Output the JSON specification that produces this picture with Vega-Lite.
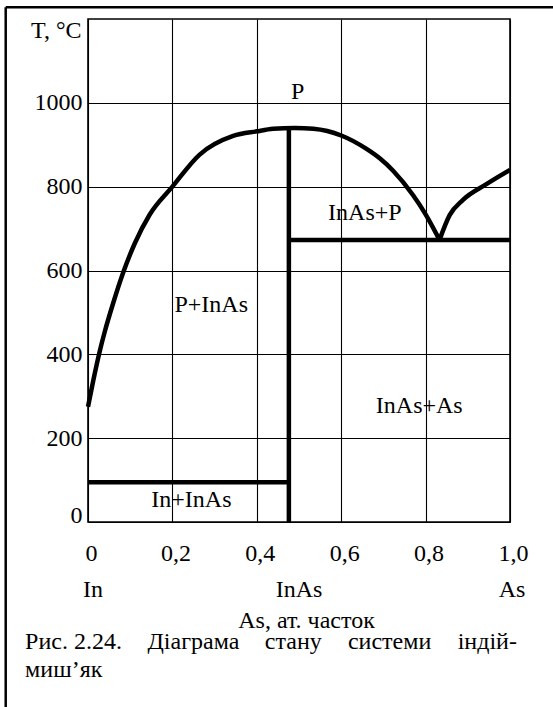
{
  "$schema": "https://vega.github.io/schema/vega-lite/v6.json",
  "width": 422,
  "height": 503,
  "autosize": {"type": "none"},
  "padding": {"left": 88, "top": 19, "right": 43, "bottom": 185},
  "background": "white",
  "config": {
    "font": "Liberation Serif",
    "view": {"stroke": "black", "strokeWidth": 1.6},
    "axis": {
      "grid": true, "gridColor": "black", "gridOpacity": 1, "gridWidth": 1.1,
      "domain": false, "ticks": false, "tickSize": 0,
      "labelFont": "Liberation Serif", "labelFontSize": 24, "labelColor": "black",
      "titleFont": "Liberation Serif", "titleFontSize": 24, "titleFontWeight": "normal", "titleColor": "black"
    },
    "text": {"font": "Liberation Serif", "fontSize": 24, "color": "black"}
  },
  "datasets": {
    "frameTop": [{"x": -0.195, "x2": 1.3, "T": 1228, "T2": 1228}],
    "frameLeft": [{"x": -0.195, "x2": -0.195, "T": 1228, "T2": -600}],
    "curve": [
      {"branch": "L", "x": 0, "T": 275},
      {"branch": "L", "x": 0.013, "T": 340},
      {"branch": "L", "x": 0.027, "T": 404},
      {"branch": "L", "x": 0.04, "T": 455},
      {"branch": "L", "x": 0.059, "T": 520},
      {"branch": "L", "x": 0.083, "T": 594},
      {"branch": "L", "x": 0.111, "T": 665},
      {"branch": "L", "x": 0.146, "T": 733},
      {"branch": "L", "x": 0.2, "T": 800},
      {"branch": "L", "x": 0.264, "T": 876},
      {"branch": "L", "x": 0.344, "T": 921},
      {"branch": "L", "x": 0.4, "T": 932},
      {"branch": "L", "x": 0.439, "T": 938},
      {"branch": "L", "x": 0.49, "T": 940},
      {"branch": "L", "x": 0.534, "T": 938},
      {"branch": "L", "x": 0.6, "T": 922},
      {"branch": "L", "x": 0.66, "T": 890},
      {"branch": "L", "x": 0.692, "T": 867},
      {"branch": "L", "x": 0.723, "T": 838},
      {"branch": "L", "x": 0.77, "T": 780},
      {"branch": "L", "x": 0.8, "T": 734},
      {"branch": "L", "x": 0.833, "T": 673},
      {"branch": "R", "x": 0.833, "T": 673},
      {"branch": "R", "x": 0.857, "T": 732},
      {"branch": "R", "x": 0.888, "T": 768},
      {"branch": "R", "x": 0.944, "T": 806},
      {"branch": "R", "x": 1.0, "T": 840}
    ],
    "lines": [
      {"x": 0, "x2": 0.476, "T": 95, "T2": 95},
      {"x": 0.476, "x2": 0.476, "T": 0, "T2": 936},
      {"x": 0.476, "x2": 1.0, "T": 673, "T2": 673}
    ],
    "regions": [
      {"label": "P", "x": 0.497, "T": 1026},
      {"label": "InAs+P", "x": 0.656, "T": 737},
      {"label": "P+InAs", "x": 0.292, "T": 518},
      {"label": "InAs+As", "x": 0.785, "T": 277},
      {"label": "In+InAs", "x": 0.245, "T": 52}
    ],
    "components": [
      {"label": "In", "x": 0.012, "T": -178},
      {"label": "InAs", "x": 0.5, "T": -178},
      {"label": "As", "x": 1.005, "T": -178}
    ],
    "caption": [
      {"label": "Рис. 2.24.", "x": -0.149, "T": -303},
      {"label": "Діаграма", "x": 0.141, "T": -303},
      {"label": "стану", "x": 0.419, "T": -303},
      {"label": "системи", "x": 0.616, "T": -303},
      {"label": "індій-", "x": 0.876, "T": -303},
      {"label": "миш’як", "x": -0.149, "T": -370}
    ]
  },
  "layer": [
    {
      "data": {"name": "curve"},
      "mark": {"type": "line", "color": "black", "strokeWidth": 4.5, "interpolate": "monotone", "strokeJoin": "round"},
      "encoding": {
        "x": {
          "field": "x", "type": "quantitative",
          "scale": {"domain": [0, 1], "nice": false, "zero": false},
          "axis": {
            "values": [0, 0.2, 0.4, 0.6, 0.8, 1.0],
            "labelExpr": "datum.value == 0 ? '0' : replace(format(datum.value, '.1f'), '.', ',')",
            "labelBaseline": "alphabetic",
            "labelPadding": 38,
            "labelOffset": 3,
            "labelFlush": false,
            "labelOverlap": false,
            "title": "As, ат. часток",
            "titleX": 218,
            "titleY": 105,
            "titleBaseline": "alphabetic",
            "titleAlign": "center"
          }
        },
        "y": {
          "field": "T", "type": "quantitative",
          "scale": {"domain": [0, 1200], "nice": false, "zero": false},
          "axis": {
            "values": [0, 200, 400, 600, 800, 1000],
            "format": "d",
            "labelPadding": 6,
            "labelBaseline": {"condition": {"test": "datum.value == 0", "value": "alphabetic"}, "value": "middle"},
            "labelOverlap": false,
            "title": "T, °C",
            "titleAngle": 0,
            "titleAlign": "right",
            "titleBaseline": "alphabetic",
            "titleX": -7,
            "titleY": 18
          }
        },
        "detail": {"field": "branch", "type": "nominal"}
      }
    },
    {
      "data": {"name": "frameTop"},
      "mark": {"type": "rule", "color": "black", "strokeWidth": 2.5, "clip": false},
      "encoding": {
        "x": {"field": "x", "type": "quantitative"},
        "x2": {"field": "x2"},
        "y": {"field": "T", "type": "quantitative"},
        "y2": {"field": "T2"}
      }
    },
    {
      "data": {"name": "frameLeft"},
      "mark": {"type": "rule", "color": "black", "strokeWidth": 2.5, "clip": false},
      "encoding": {
        "x": {"field": "x", "type": "quantitative"},
        "x2": {"field": "x2"},
        "y": {"field": "T", "type": "quantitative"},
        "y2": {"field": "T2"}
      }
    },
    {
      "data": {"name": "lines"},
      "mark": {"type": "rule", "color": "black", "strokeWidth": 4.5},
      "encoding": {
        "x": {"field": "x", "type": "quantitative"},
        "x2": {"field": "x2"},
        "y": {"field": "T", "type": "quantitative"},
        "y2": {"field": "T2"}
      }
    },
    {
      "data": {"name": "regions"},
      "mark": {"type": "text", "align": "center", "baseline": "middle", "fontSize": 24, "color": "black"},
      "encoding": {
        "x": {"field": "x", "type": "quantitative"},
        "y": {"field": "T", "type": "quantitative"},
        "text": {"field": "label"}
      }
    },
    {
      "data": {"name": "components"},
      "mark": {"type": "text", "align": "center", "baseline": "alphabetic", "fontSize": 24, "color": "black", "clip": false},
      "encoding": {
        "x": {"field": "x", "type": "quantitative"},
        "y": {"field": "T", "type": "quantitative"},
        "text": {"field": "label"}
      }
    },
    {
      "data": {"name": "caption"},
      "mark": {"type": "text", "align": "left", "baseline": "alphabetic", "fontSize": 24, "color": "black", "clip": false},
      "encoding": {
        "x": {"field": "x", "type": "quantitative"},
        "y": {"field": "T", "type": "quantitative"},
        "text": {"field": "label"}
      }
    }
  ]
}
